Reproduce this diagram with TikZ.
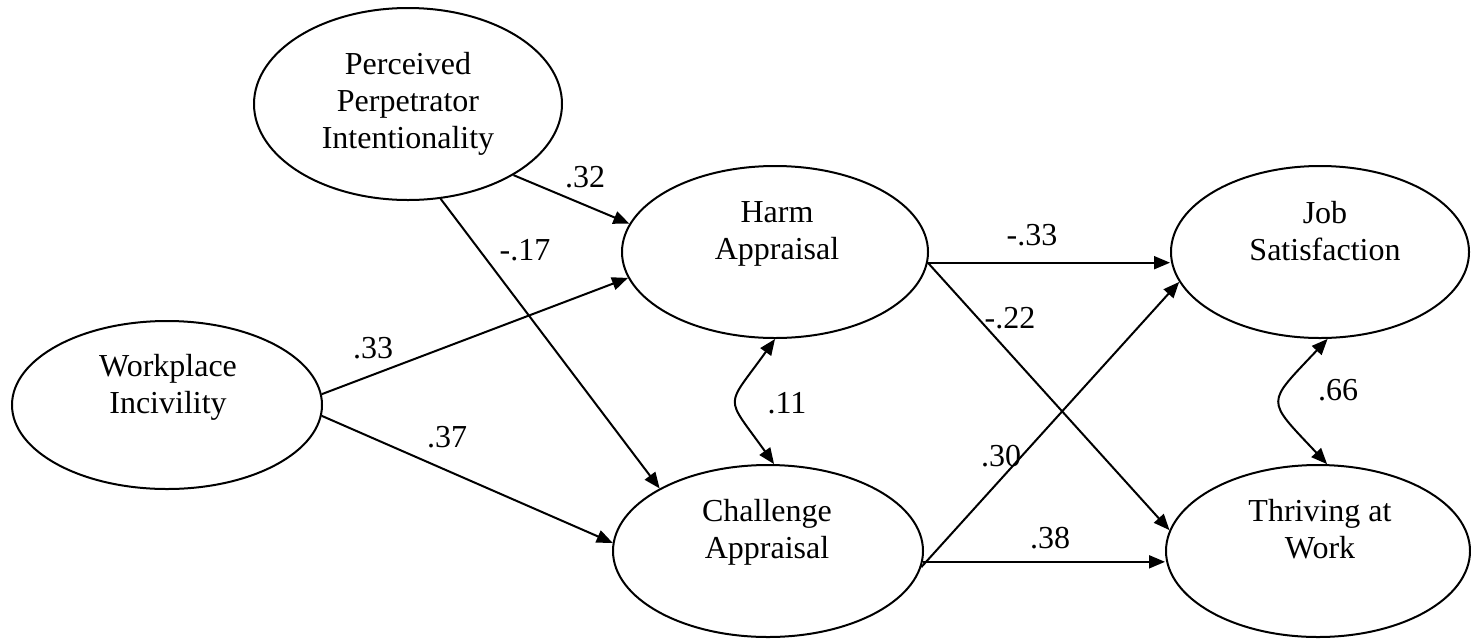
\documentclass[tikz,border=0pt]{standalone}
\usepackage{fontspec}
\setmainfont{Liberation Serif}
\usetikzlibrary{shapes.geometric,arrows.meta}
% multi-line caption whose baseline is the first line
\newcommand\latentname[1]{{\fontsize{16}{18.5}\selectfont\begin{tabular}[t]{@{}c@{}}#1\end{tabular}}}
\begin{document}
\begin{tikzpicture}[x=0.5pt,y=-0.5pt,
  latent/.style={ellipse,draw,line width=1pt,inner sep=0pt},
  caption/.style={anchor=base,inner sep=0pt},
  coef/.style={inner sep=0pt,font=\fontsize{16}{18.5}\selectfont},
  tip/.style={Triangle[length=8pt,width=6.5pt]},
  effect/.style={line width=1pt,-{Triangle[length=8pt,width=6.5pt]}},
  covar/.style={line width=1pt,{Triangle[length=8pt,width=6.5pt]}-{Triangle[length=8pt,width=6.5pt]}}]
\useasboundingbox (0,0) rectangle (1471,638);

% latent variables
\node[latent,minimum width=154pt,minimum height=96pt] (ppi)  at (408,104)  {};
\node[latent,minimum width=155pt,minimum height=84pt] (work) at (167,405)  {};
\node[latent,minimum width=153pt,minimum height=86pt] (harm) at (775,252)  {};
\node[latent,minimum width=155pt,minimum height=86pt] (chal) at (768,551)  {};
\node[latent,minimum width=149pt,minimum height=86pt] (job)  at (1320,252) {};
\node[latent,minimum width=152pt,minimum height=86pt] (thr)  at (1318,551) {};

% captions
\node[caption] (ppit)  at (408,74)   {\latentname{Perceived\\Perpetrator\\Intentionality}};
\node[caption] (workt) at (168,376)  {\latentname{Workplace\\Incivility}};
\node[caption] (harmt) at (777,222)  {\latentname{Harm\\Appraisal}};
\node[caption] (chalt) at (767,521)  {\latentname{Challenge\\Appraisal}};
\node[caption] (jobt)  at (1325,223) {\latentname{Job\\Satisfaction}};
\node[caption] (thrt)  at (1320,521) {\latentname{Thriving at\\Work}};

% structural paths
\draw[effect] (ppi.-34) -- (harm.169);
\draw[effect] (ppi.-71) -- (chal.150);
\draw[effect] (work.4) -- (harm.190);
\draw[effect] (work.-4) -- (chal.177);
\draw[effect] (harm.-4) -- (harm.-4 -| job.west);
\draw[effect] (harm.-4) -- (thr.172);
\draw[effect] (chal.-6) -- (job.192);
\draw[effect] (chal.-4) -- (chal.-4 -| thr.west);

% residual covariances
\draw[covar] (harm.270) .. controls +(-50,70) and +(-50,-70) .. (chal.86);
\draw[covar] (job.275) .. controls +(-62,66) and +(-62,-66) .. (thr.84);

% coefficients
\node[coef] (c32)  at (585,177)  {.32};
\node[coef] (c17)  at (525,250)  {-.17};
\node[coef] (c33)  at (373,348)  {.33};
\node[coef] (c37)  at (447,437)  {.37};
\node[coef] (c11)  at (787,403)  {.11};
\node[coef] (cm33) at (1032,235) {-.33};
\node[coef] (c22)  at (1010,318) {-.22};
\node[coef] (c30)  at (1001,456) {.30};
\node[coef] (c38)  at (1050,538) {.38};
\node[coef] (c66)  at (1338,390) {.66};
\end{tikzpicture}
\end{document}
